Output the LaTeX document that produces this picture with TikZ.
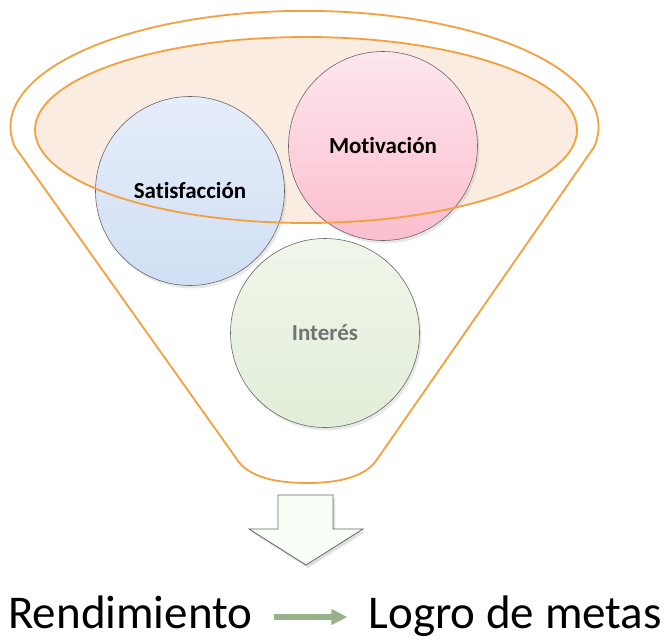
\documentclass[tikz,border=0pt]{standalone}
\usepackage{fontspec}
\setmainfont{Carlito}[Ligatures=NoCommon]
\usepackage{tikz}
\usetikzlibrary{arrows.meta,positioning,shadows}

\definecolor{funnelorange}{RGB}{243,160,62}
\definecolor{rimfill}{RGB}{251,236,226}
\definecolor{arrowgreen}{RGB}{152,178,138}
\definecolor{satistop}{RGB}{230,237,249}
\definecolor{satisbot}{RGB}{208,223,244}
\definecolor{motivtop}{RGB}{253,230,237}
\definecolor{motivbot}{RGB}{251,190,206}
\definecolor{intertop}{RGB}{240,246,234}
\definecolor{interbot}{RGB}{226,238,217}

\begin{document}
\begin{tikzpicture}[
    x=1pt, y=-1pt,
    funnel/.style={draw=funnelorange, line width=1.8pt, line join=round},
    bubble/.style={circle, draw=black!60, line width=0.6pt, minimum size=189pt,
                   inner sep=0pt, font=\fontsize{23}{26}\selectfont\bfseries,
                   drop shadow={opacity=0.18, shadow xshift=2pt, shadow yshift=-3pt}},
    label/.style={inner sep=0pt, font=\fontsize{47}{51}\selectfont},
    flow/.style={-{Triangle[length=16pt, width=15pt]}, line width=5.5pt, arrowgreen},
]
\useasboundingbox (0,0) rectangle (665,640);

% Rim of the funnel (fill first, outline later)
\fill[rimfill] (306,130) ellipse[x radius=271, y radius=93];

% Funnel body
\draw[funnel] (307,483) .. controls (278,483) and (248,478) .. (236,458)
    -- (15,147) arc[start angle=170, end angle=370, x radius=294, y radius=116]
    -- (378,458) .. controls (366,478) and (336,483) .. (307,483);

% Three bubbles
\node[bubble, top color=satistop, bottom color=satisbot] (satis) at (190,191) {Satisfacción};
\node[bubble, top color=motivtop, bottom color=motivbot] (motiv) at (383,146) {Motivación};
\node[bubble, top color=intertop, bottom color=interbot, text=black!55] (inter) at (325,333) {Interés};

% Rim outline on top
\draw[funnel] (306,130) ellipse[x radius=271, y radius=93];

% Down arrow
\draw[black!60, line width=0.8pt, fill=green!3!white,
      drop shadow={opacity=0.25, shadow xshift=2pt, shadow yshift=-3pt}]
    (278,495) -- (333,495) -- (333,529) -- (363,529) -- (306,565)
    -- (249,529) -- (278,529) -- cycle;

% Result line
\node[label, anchor=base west] (rend) at (8,628) {Rendimiento};
\node[label, anchor=base east] (logro) at (662,628) {Logro de metas};
\draw[flow] ([xshift=21pt, yshift=11pt]rend.base east) -- ([xshift=-21pt, yshift=11pt]logro.base west);

\end{tikzpicture}
\end{document}
